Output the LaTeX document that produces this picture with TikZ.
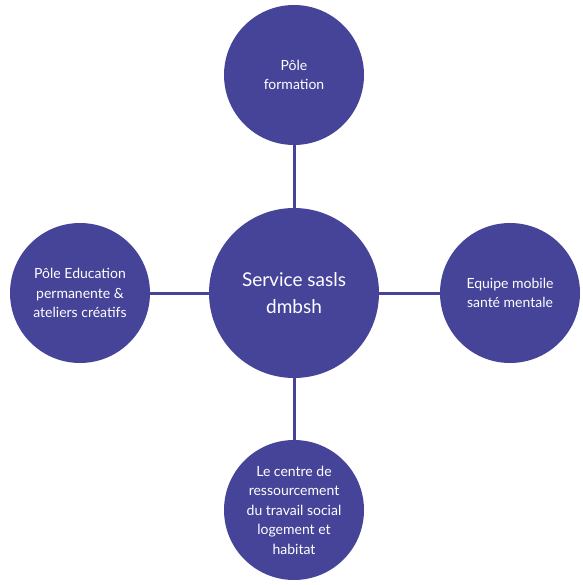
\documentclass[tikz,border=0pt]{standalone}
\usepackage{fontspec}
\setmainfont{Lato}
\usepackage{tikz}
\definecolor{pole}{RGB}{70,68,153}
\tikzset{
    pole/.style={circle, fill=pole, text=white, minimum size=140pt, inner sep=0pt,
        align=center, font=\fontsize{14}{19.5}\selectfont},
    link/.style={draw=pole, line width=3pt}
}

\begin{document}
\begin{tikzpicture}[x=1pt, y=-1pt]
    \useasboundingbox (0,0) rectangle (582,585);
    \node[pole, minimum size=170pt, font=\fontsize{19}{27}\selectfont] (service) at (294,293) {Service sasls\\dmbsh};
    \node[pole] (formation) at (294,75) {Pôle\\formation};
    \node[pole] (education) at (80,293) {Pôle Education\\permanente \&\\ateliers créatifs};
    \node[pole] (equipe) at (510,293) {Equipe mobile\\santé mentale};
    \node[pole] (centre) at (294,510) {Le centre de\\ressourcement\\du travail social\\logement et\\habitat};
    \draw[link] (service) -- (formation);
    \draw[link] (service) -- (education);
    \draw[link] (service) -- (equipe);
    \draw[link] (service) -- (centre);

\end{tikzpicture}
\end{document}
